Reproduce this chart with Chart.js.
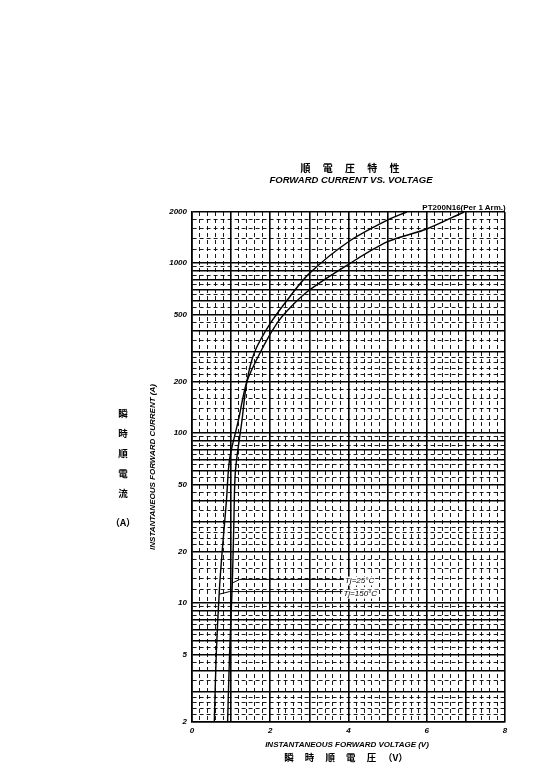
<!DOCTYPE html>
<html><head><meta charset="utf-8">
<script src="https://cdn.jsdelivr.net/npm/chart.js@4.4.0/dist/chart.umd.min.js"></script>
<style>
html,body{margin:0;padding:0;background:#fff;}
#wrap{position:relative;width:559px;height:780px;overflow:hidden;}
canvas{position:absolute;left:0;top:0;}
.t{position:absolute;white-space:nowrap;color:#000;font-family:"Liberation Sans",Arial,sans-serif;line-height:1;transform:translate(-50%,-50%);}
.cjk{font-family:"Noto Sans CJK JP","Noto Sans CJK SC",sans-serif;font-weight:bold;}
.it{font-style:italic;font-weight:bold;}
</style></head><body>
<div id="wrap">
<canvas id="c" width="559" height="780"></canvas>
<div class="t cjk" style="left:350px;top:168px;font-size:10px;letter-spacing:5px;padding-left:5px;">順 電 圧 特 性</div>
<div class="t it" style="left:351px;top:179.5px;font-size:9.5px;">FORWARD CURRENT VS. VOLTAGE</div>
<div class="t" style="left:464px;top:207.5px;font-size:8px;font-weight:bold;">PT200N16(Per 1 Arm.)</div>
<div class="t it" style="left:347px;top:745px;font-size:8px;">INSTANTANEOUS FORWARD VOLTAGE (V)</div>
<div class="t cjk" style="left:346px;top:758px;font-size:9.5px;"><span style="letter-spacing:4.5px;">瞬 時 順 電 圧</span> <span>（V）</span></div>
<div class="t it" style="left:153px;top:467px;font-size:8px;transform:translate(-50%,-50%) rotate(-90deg);">INSTANTANEOUS FORWARD CURRENT (A)</div>
<div class="t cjk" style="left:123px;top:453px;font-size:9.5px;line-height:20px;text-align:center;">瞬<br>時<br>順<br>電<br>流</div>
<div class="t cjk" style="left:123px;top:523px;font-size:9.5px;">（A）</div>
</div>
<script>
// ---- data ----
const amp25  = [2, 5, 13, 30, 60, 120, 200, 300, 442, 635, 871, 1337, 1795, 2000];
const volt25 = [0.91, 0.96, 1.03, 1.07, 1.11, 1.28, 1.40, 1.60, 2.00, 2.50, 3.00, 4.00, 5.00, 5.49];
const amp150  = [2, 5, 12, 20, 40, 70, 120, 200, 300, 442, 545, 695, 985, 1337, 1589, 2000];
const volt150 = [0.57, 0.62, 0.70, 0.77, 0.88, 0.96, 1.19, 1.40, 1.75, 2.17, 2.50, 3.00, 4.00, 5.00, 6.00, 6.95];
const xTickLabels = [0, 2, 4, 6, 8];
const yTickLabels = [2, 5, 10, 20, 50, 100, 200, 500, 1000, 2000];
const seriesNames = ['Tj=25°C', 'Tj=150°C'];
// annotation anchors in data units: tip (V,I), elbow (V,I), end V, text (V,I)
const annTip   = [[1.05, 13.2], [0.70, 11.3]];
const annElbow = [[1.22, 13.8], [0.96, 11.7]];
const annEndV  = [3.90, 3.86];
const annText  = [[3.91, 13.5], [3.87, 11.3]];

// grid values
const xGrid = [];
for (let i = 0; i <= 40; i++) xGrid.push(Math.round(i * 2) / 10);
const yGrid = [];
[1, 10, 100, 1000].forEach(d => {
  for (let m = 1; m <= 9; m++) {
    yGrid.push(m * d);
    const subs = (m <= 2) ? [2, 4, 6, 8] : [5];
    subs.forEach(k => yGrid.push((m * 10 + k) * d / 10));
  }
});
yGrid.push(10000);
const yVals = yGrid.filter(v => v >= 2 && v <= 2000).sort((a, b) => a - b);

const isMajorX = v => Math.abs(v - Math.round(v)) < 1e-6;
const isMajorY = v => { const d = Math.pow(10, Math.floor(Math.log10(v) + 1e-9)); const r = v / d; return Math.abs(r - Math.round(r)) < 1e-6; };

const tickFont = {family: '"Liberation Sans", Arial, sans-serif', size: 8, style: 'italic', weight: 'bold'};

const annotPlugin = {
  id: 'annot',
  afterDatasetsDraw(chart) {
    const {ctx, scales: {x, y}} = chart;
    ctx.save();
    ctx.strokeStyle = '#000';
    ctx.lineWidth = 1;
    ctx.font = 'italic 8px "Liberation Sans", Arial, sans-serif';
    ctx.textBaseline = 'middle';
    for (let i = 0; i < seriesNames.length; i++) {
      const ly = y.getPixelForValue(annElbow[i][1]);
      ctx.beginPath();
      ctx.moveTo(x.getPixelForValue(annTip[i][0]), y.getPixelForValue(annTip[i][1]));
      ctx.lineTo(x.getPixelForValue(annElbow[i][0]), ly);
      ctx.lineTo(x.getPixelForValue(annEndV[i]), ly);
      ctx.stroke();
      const tx = x.getPixelForValue(annText[i][0]);
      const ty = y.getPixelForValue(annText[i][1]);
      const w = ctx.measureText(seriesNames[i]).width;
      ctx.fillStyle = '#fff';
      ctx.fillRect(tx - 1, ty - 4.5, w + 2, 9);
      ctx.fillStyle = '#000';
      ctx.fillText(seriesNames[i], tx, ty);
    }
    ctx.restore();
  }
};

new Chart(document.getElementById('c'), {
  type: 'scatter',
  data: {
    datasets: [
      {label: seriesNames[0], data: volt25.map((v, i) => ({x: v, y: amp25[i]})), showLine: true, borderColor: '#000', borderWidth: 1.4, pointRadius: 0, tension: 0.3, fill: false},
      {label: seriesNames[1], data: volt150.map((v, i) => ({x: v, y: amp150[i]})), showLine: true, borderColor: '#000', borderWidth: 1.4, pointRadius: 0, tension: 0.3, fill: false}
    ]
  },
  options: {
    responsive: false, animation: false, devicePixelRatio: 1,
    layout: {padding: {left: 147, right: 54, top: 212, bottom: 38}},
    plugins: {legend: {display: false}, tooltip: {enabled: false}, title: {display: false}},
    scales: {
      x: {
        type: 'linear', min: 0, max: 8,
        afterBuildTicks: s => { s.ticks = xGrid.map(v => ({value: v})); },
        afterFit: s => { s.height = 20; },
        ticks: {autoSkip: false, maxRotation: 0, padding: 4, color: '#000', font: tickFont,
          callback: v => xTickLabels.includes(Math.round(v * 10) / 10) ? String(Math.round(v)) : ''},
        grid: {drawTicks: false, color: '#000', lineWidth: c => (c.tick && !isMajorX(c.tick.value)) ? 0.9 : 1.6},
        border: {display: true, color: '#000', width: 1.6, dash: c => (c.tick && !isMajorX(c.tick.value)) ? [4, 3] : []}
      },
      y: {
        type: 'logarithmic', min: 2, max: 2000,
        afterBuildTicks: s => { s.ticks = yVals.map(v => ({value: v})); },
        afterFit: s => { s.width = 45; },
        ticks: {autoSkip: false, padding: 5, color: '#000', font: tickFont,
          callback: v => yTickLabels.some(t => Math.abs(t - v) < 1e-6) ? String(v) : ''},
        grid: {drawTicks: false, color: '#000', lineWidth: c => (c.tick && !isMajorY(c.tick.value)) ? 0.9 : 1.6},
        border: {display: true, color: '#000', width: 1.6, dash: c => (c.tick && !isMajorY(c.tick.value)) ? [4, 3] : []}
      }
    }
  },
  plugins: [annotPlugin]
});
</script>
</body></html>
